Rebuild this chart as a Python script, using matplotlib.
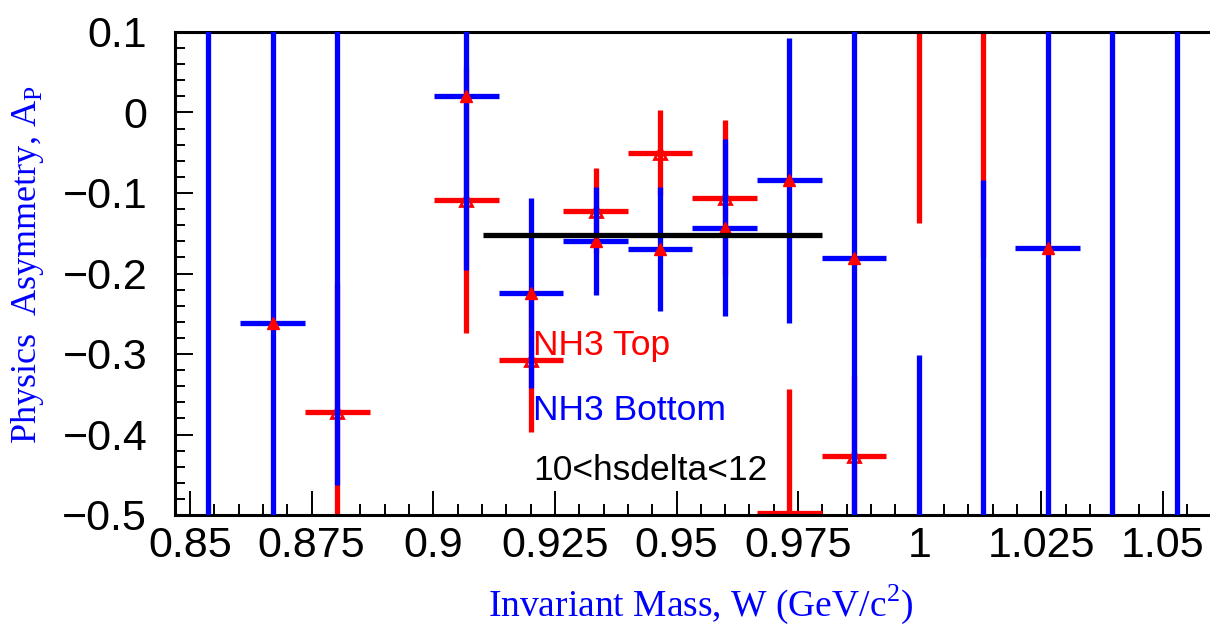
import matplotlib
matplotlib.use("Agg")
import matplotlib.pyplot as plt
from matplotlib.ticker import MultipleLocator, FuncFormatter

# ---- data -------------------------------------------------------------
# NH3 Bottom target (blue error bars, filled red triangles)
bottom_w = [0.8537, 0.8670, 0.8803, 0.9068, 0.9201, 0.9334, 0.9466, 0.9599,
            0.9732, 0.9865, 0.9998, 1.0130, 1.0263, 1.0396, 1.0529]
bottom_ap = [0.35, -0.262, 0.18, 0.020, -0.224, -0.160, -0.170, -0.143,
             -0.084, -0.181, -0.62, -0.60, -0.168, -0.70, 0.30]
bottom_err = [1.00, 0.45, 0.643, 0.216, 0.118, 0.067, 0.077, 0.110,
              0.177, 0.40, 0.319, 0.516, 0.45, 1.00, 0.90]

# NH3 Top target (red error bars, open triangles)
top_w = [0.8803, 0.9068, 0.9201, 0.9334, 0.9466, 0.9599, 0.9732, 0.9865,
         0.9998, 1.0130]
top_ap = [-0.372, -0.109, -0.308, -0.122, -0.050, -0.106, -0.498, -0.427,
          0.25, 0.22]
top_err = [0.16, 0.165, 0.089, 0.053, 0.053, 0.097, 0.155, 0.10,
           0.387, 0.40]

# half bin width in W
bin_half = 0.00664

# constant fit over the central range
fit_range = [0.9102, 0.9799]
fit_value = -0.152

x_min, x_max = 0.846917, 1.060684
y_min, y_max = -0.5, 0.1

# ---- figure -----------------------------------------------------------
plt.rcParams['mathtext.fontset'] = 'custom'
plt.rcParams['mathtext.rm'] = 'Liberation Serif'
plt.rcParams['axes.unicode_minus'] = True

W, H = 1210, 624
fig = plt.figure(figsize=(W / 100, H / 100), dpi=100)
ax = fig.add_axes([175 / W, 109 / H, 1040 / W, 483 / H])

blue = (0, 0, 1)
red = (1, 0, 0)
lw_bar = 3.8


def inside(xs, ys):
    """Points whose marker sits fully within the y range."""
    pts = [(x, y) for x, y in zip(xs, ys) if y_min + 0.006 < y < y_max]
    return [p[0] for p in pts], [p[1] for p in pts]


# red series first, so blue bars overlay it
ax.errorbar(top_w, top_ap, xerr=bin_half, yerr=top_err, fmt='none',
            ecolor=red, elinewidth=lw_bar, capsize=0, zorder=2)
mx, my = inside(top_w, top_ap)
ax.plot(mx, my, linestyle='none', marker='^', ms=9,
        mfc='none', mec=red, mew=2.0, zorder=2.5)

ax.errorbar(bottom_w, bottom_ap, xerr=bin_half, yerr=bottom_err, fmt='none',
            ecolor=blue, elinewidth=lw_bar, capsize=0, zorder=3)
mx, my = inside(bottom_w, bottom_ap)
ax.plot(mx, my, linestyle='none', marker='^', ms=9,
        mfc=red, mec=red, mew=1.0, zorder=4)

ax.plot(fit_range, [fit_value, fit_value], color='black', lw=3.8,
        solid_capstyle='butt', zorder=5)

ax.set_xlim(x_min, x_max)
ax.set_ylim(y_min, y_max)

# ---- axes styling ----------------------------------------------------
for side in ('left', 'bottom', 'top', 'right'):
    ax.spines[side].set_linewidth(2.2)
    ax.spines[side].set_color('black')

ax.xaxis.set_major_locator(MultipleLocator(0.025))
ax.xaxis.set_minor_locator(MultipleLocator(0.005))
ax.yaxis.set_major_locator(MultipleLocator(0.1))
ax.yaxis.set_minor_locator(MultipleLocator(0.02))


def fmt(v, pos):
    s = '%g' % round(v, 4)
    if s in ('-0', '0'):
        return '0'
    return s.replace('-', '\u2212')


ax.xaxis.set_major_formatter(FuncFormatter(fmt))
ax.yaxis.set_major_formatter(FuncFormatter(fmt))

ax.tick_params(axis='x', which='major', direction='in', length=17, width=1.4,
               pad=8, top=False, labelsize=31)
ax.tick_params(axis='x', which='minor', direction='in', length=8, width=1.4,
               top=False)
ax.tick_params(axis='y', which='major', direction='in', length=13, width=1.4,
               pad=20, right=False, labelsize=31)
ax.tick_params(axis='y', which='minor', direction='in', length=7, width=1.4,
               right=False)
for lab in ax.get_xticklabels() + ax.get_yticklabels():
    lab.set_family(['Liberation Sans', 'DejaVu Sans'])

# ---- labels -----------------------------------------------------------
serif = ['Liberation Serif', 'DejaVu Serif']
fig.text(701 / W, (H - 604) / H, r'Invariant Mass, W (GeV/c$^{\mathrm{2}}$)',
         color=blue, family=serif, size=27, ha='center', va='center')
fig.text(28 / W, (H - 265) / H, r'Physics  Asymmetry, A$_{\mathrm{P}}$',
         color=blue, family=serif, size=26, ha='center', va='center',
         rotation=90)

sans = ['Liberation Sans', 'DejaVu Sans']
ax.text(0.9205, -0.301, 'NH3 Top', color=red, family=sans, size=25.5,
        ha='left', va='baseline', zorder=6)
ax.text(0.9205, -0.382, 'NH3 Bottom', color=blue, family=sans, size=25.5,
        ha='left', va='baseline', zorder=6)
ax.text(0.9205, -0.456, '10<hsdelta<12', color='black', family=sans, size=25.5,
        ha='left', va='baseline', zorder=6)

fig.savefig('out.png', dpi=100, facecolor='white')
